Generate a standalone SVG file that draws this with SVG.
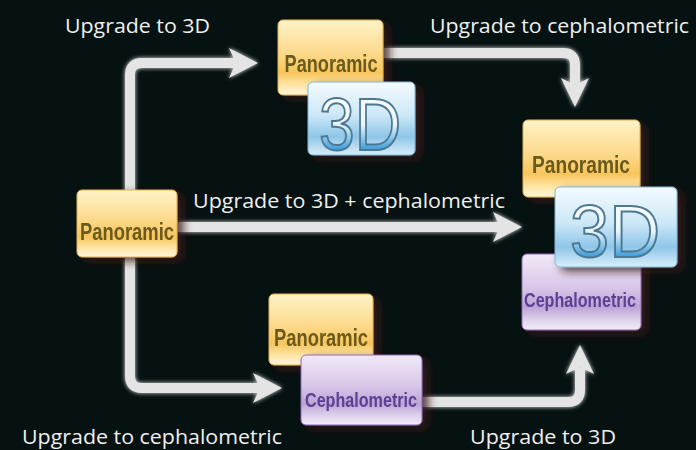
<svg xmlns="http://www.w3.org/2000/svg" width="696" height="450" viewBox="0 0 696 450">
<defs>
<linearGradient id="gPan" x1="0" y1="0" x2="0" y2="1">
<stop offset="0" stop-color="#fff3c8"/>
<stop offset="0.45" stop-color="#fcd98a"/>
<stop offset="0.7" stop-color="#f7c55c"/>
<stop offset="0.85" stop-color="#fde3a0"/>
<stop offset="1" stop-color="#fff6dc"/>
</linearGradient>
<linearGradient id="gCeph" x1="0" y1="0" x2="0" y2="1">
<stop offset="0" stop-color="#f1e9f7"/>
<stop offset="0.45" stop-color="#d7c6e8"/>
<stop offset="0.7" stop-color="#bda3d6"/>
<stop offset="0.85" stop-color="#dccdea"/>
<stop offset="1" stop-color="#f3edf8"/>
</linearGradient>
<linearGradient id="g3d" x1="0" y1="0" x2="0" y2="1">
<stop offset="0" stop-color="#f4fbff"/>
<stop offset="0.45" stop-color="#cde8f7"/>
<stop offset="0.75" stop-color="#8ec6e8"/>
<stop offset="1" stop-color="#d9eef9"/>
</linearGradient>
<linearGradient id="g3dText" x1="0" y1="0" x2="0" y2="1">
<stop offset="0" stop-color="#ffffff"/>
<stop offset="0.5" stop-color="#e9f5fc"/>
<stop offset="0.8" stop-color="#3f9fde"/>
<stop offset="1" stop-color="#d0ecfb"/>
</linearGradient>
<filter id="shadow" x="-20%" y="-20%" width="150%" height="150%">
<feDropShadow dx="6" dy="4" stdDeviation="4" flood-color="#3b1c12" flood-opacity="0.8"/>
</filter>
<filter id="glow" x="-10%" y="-10%" width="120%" height="120%">
<feGaussianBlur in="SourceGraphic" stdDeviation="2" result="b"/>
<feMerge><feMergeNode in="b"/><feMergeNode in="SourceGraphic"/></feMerge>
</filter>
</defs>
<style>
.lbl{font-family:"Open Sans","Liberation Sans",sans-serif;font-size:20px;fill:#f0f0f0}
.conn{fill:none;stroke:#e4e4e4;stroke-width:10;stroke-linejoin:round}
.head{fill:#e4e4e4}
.pan{fill:url(#gPan);stroke:#e0b050;stroke-width:1}
.ceph{fill:url(#gCeph);stroke:#8e6bb0;stroke-width:1}
.box3d{fill:url(#g3d);stroke:#7fb6d6;stroke-width:1}
.tpan{font-family:"Liberation Sans",sans-serif;font-weight:bold;font-size:24px;fill:#6b5a1c}
.tceph{font-family:"Liberation Sans",sans-serif;font-weight:bold;font-size:21px;fill:#5b3f92}
.t3d{font-family:"Liberation Sans",sans-serif;font-size:74px;fill:url(#g3dText);stroke:#4d7890;stroke-width:2}
</style>
<rect width="696" height="450" fill="#061111"/>

<g id="connectors" filter="url(#glow)">
<path class="conn" d="M130,192 V75 Q130,63 142,63 H236"/>
<polygon class="head" points="258,63 229,48 236,63 229,78"/>
<path class="conn" d="M384,53 H563 Q575,53 575,65 V84"/>
<polygon class="head" points="575,107 561,78 575,85 589,78"/>
<path class="conn" d="M178,227 H500"/>
<polygon class="head" points="522,227 493,212 500,227 493,242"/>
<path class="conn" d="M130,258 V376 Q130,388 142,388 H260"/>
<polygon class="head" points="282,388 253,373 260,388 253,403"/>
<path class="conn" d="M423,402 H568 Q580,402 580,390 V368"/>
<polygon class="head" points="580,345 566,374 580,367 594,374"/>
</g>

<g id="labels">
<text class="lbl" x="65" y="33" textLength="145" lengthAdjust="spacingAndGlyphs">Upgrade to 3D</text>
<text class="lbl" x="430" y="33" textLength="259" lengthAdjust="spacingAndGlyphs">Upgrade to cephalometric</text>
<text class="lbl" x="193" y="208" textLength="312" lengthAdjust="spacingAndGlyphs">Upgrade to 3D + cephalometric</text>
<text class="lbl" x="22" y="444" textLength="260" lengthAdjust="spacingAndGlyphs">Upgrade to cephalometric</text>
<text class="lbl" x="470" y="444" textLength="146" lengthAdjust="spacingAndGlyphs">Upgrade to 3D</text>
</g>

<g id="node-left-panoramic" filter="url(#shadow)">
<rect class="pan" x="77" y="190" width="100" height="67" rx="5"/>
<text class="tpan" x="127" y="240" text-anchor="middle" textLength="94" lengthAdjust="spacingAndGlyphs">Panoramic</text>
</g>

<g id="node-top-panoramic" filter="url(#shadow)">
<rect class="pan" x="278" y="20" width="105" height="75" rx="5"/>
<text class="tpan" x="331" y="72" text-anchor="middle" textLength="93" lengthAdjust="spacingAndGlyphs">Panoramic</text>
</g>
<g id="node-top-3d" filter="url(#shadow)">
<rect class="box3d" x="308" y="82" width="107" height="73" rx="5"/>
<text class="t3d" x="360" y="150" text-anchor="middle" textLength="82" lengthAdjust="spacingAndGlyphs">3D</text>
</g>

<g id="node-right-panoramic" filter="url(#shadow)">
<rect class="pan" x="523" y="120" width="117" height="77" rx="5"/>
<text class="tpan" x="581" y="173" text-anchor="middle" textLength="98" lengthAdjust="spacingAndGlyphs">Panoramic</text>
</g>
<g id="node-right-cephalometric" filter="url(#shadow)">
<rect class="ceph" x="522" y="254" width="119" height="76" rx="5"/>
<text class="tceph" x="580" y="307" text-anchor="middle" textLength="112" lengthAdjust="spacingAndGlyphs">Cephalometric</text>
</g>
<g id="node-right-3d" filter="url(#shadow)">
<rect class="box3d" x="555" y="187" width="122" height="80" rx="5"/>
<text class="t3d" x="615" y="257" text-anchor="middle" textLength="90" lengthAdjust="spacingAndGlyphs">3D</text>
</g>

<g id="node-bottom-panoramic" filter="url(#shadow)">
<rect class="pan" x="269" y="294" width="104" height="71" rx="5"/>
<text class="tpan" x="321" y="346" text-anchor="middle" textLength="94" lengthAdjust="spacingAndGlyphs">Panoramic</text>
</g>
<g id="node-bottom-cephalometric" filter="url(#shadow)">
<rect class="ceph" x="301" y="355" width="121" height="70" rx="5"/>
<text class="tceph" x="361" y="407" text-anchor="middle" textLength="112" lengthAdjust="spacingAndGlyphs">Cephalometric</text>
</g>
</svg>
